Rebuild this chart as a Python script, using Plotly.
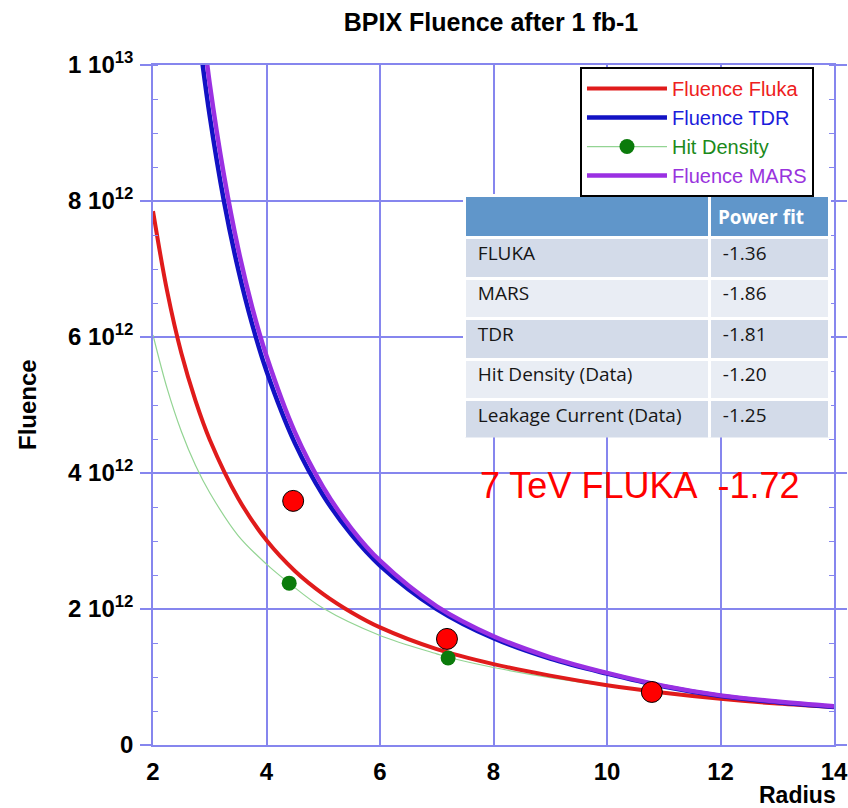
import plotly.graph_objects as go

# ---------------- data (fluence in units of 1e12) ----------------
fluka_r = [2.0, 2.25, 2.5, 2.75, 3.0, 3.5, 4.0, 4.5, 5.0, 5.5, 6.0, 7.0, 8.0, 9.0, 10.0, 11.0, 12.0, 13.0, 14.0]
fluka_f = [7.85, 6.67, 5.76, 5.06, 4.49, 3.63, 3.01, 2.56, 2.22, 1.95, 1.73, 1.41, 1.19, 1.02, 0.88, 0.77, 0.68, 0.61, 0.56]

tdr_r = [2.8, 3.0, 3.25, 3.5, 3.75, 4.0, 4.5, 5.0, 5.5, 6.0, 7.0, 8.0, 9.0, 10.0, 11.0, 12.0, 13.0, 14.0]
tdr_f = [10.49, 9.25, 8.00, 7.00, 6.18, 5.50, 4.44, 3.67, 3.09, 2.64, 2.00, 1.57, 1.27, 1.05, 0.86, 0.72, 0.63, 0.56]

mars_r = [2.9, 3.0, 3.25, 3.5, 3.75, 4.0, 4.5, 5.0, 5.5, 6.0, 7.0, 8.0, 9.0, 10.0, 11.0, 12.0, 13.0, 14.0]
mars_f = [10.40, 9.72, 8.38, 7.30, 6.43, 5.72, 4.60, 3.79, 3.18, 2.71, 2.04, 1.60, 1.29, 1.06, 0.87, 0.73, 0.64, 0.57]

hit_curve_r = [2.0, 2.25, 2.5, 2.75, 3.0, 3.5, 4.0, 4.4, 5.0, 6.0, 7.0, 7.2, 8.0, 9.0, 10.0, 10.8, 12.0, 13.0, 14.0]
hit_curve_f = [6.03, 5.24, 4.61, 4.11, 3.71, 3.08, 2.66, 2.38, 2.01, 1.61, 1.34, 1.29, 1.14, 0.99, 0.87, 0.80, 0.70, 0.64, 0.58]

hit_data_r = [4.4, 7.2, 10.8]
hit_data_f = [2.38, 1.28, 0.79]

leak_data_r = [4.47, 7.18, 10.79]
leak_data_f = [3.59, 1.56, 0.78]

y_tickvals = [0, 2, 4, 6, 8, 10]
y_ticktext = ["0", "2 10<sup>12</sup>", "4 10<sup>12</sup>", "6 10<sup>12</sup>",
              "8 10<sup>12</sup>", "1 10<sup>13</sup>"]
x_tickvals = [2, 4, 6, 8, 10, 12, 14]

table_header = ["", "<b>Power fit</b>"]
table_models = ["FLUKA", "MARS", "TDR", "Hit Density (Data)", "Leakage Current (Data)"]
table_power = ["-1.36", "-1.86", "-1.81", "-1.20", "-1.25"]

# ---------------- styling ----------------
RED = "#e01b1b"
BLUE = "#1212c4"
PURPLE = "#9a30e2"
GREEN_LINE = "#93d493"
GREEN_DOT = "#0b7b0b"
GRID = "#8686ee"
FONT = "Liberation Sans, Arial, sans-serif"

fig = go.Figure()

fig.add_trace(go.Scatter(x=hit_curve_r, y=hit_curve_f, mode="lines",
                         line=dict(color=GREEN_LINE, width=1.2, shape="spline"),
                         showlegend=False, hoverinfo="skip"))
fig.add_trace(go.Scatter(x=fluka_r, y=fluka_f, mode="lines",
                         line=dict(color=RED, width=4, shape="spline"),
                         name='<span style="color:#ee2020">Fluence Fluka</span>', legendrank=1))
fig.add_trace(go.Scatter(x=tdr_r, y=tdr_f, mode="lines",
                         line=dict(color=BLUE, width=4.5, shape="spline"),
                         name='<span style="color:#1c1cdc">Fluence TDR</span>', legendrank=2))
fig.add_trace(go.Scatter(x=[None], y=[None], mode="lines+markers",
                         line=dict(color=GREEN_LINE, width=1.2),
                         marker=dict(color=GREEN_DOT, size=15),
                         name='<span style="color:#1b8a1b">Hit Density</span>', legendrank=3))
fig.add_trace(go.Scatter(x=mars_r, y=mars_f, mode="lines",
                         line=dict(color=PURPLE, width=4.5, shape="spline"),
                         name='<span style="color:#9933dd">Fluence MARS</span>', legendrank=4))
fig.add_trace(go.Scatter(x=hit_data_r, y=hit_data_f, mode="markers",
                         marker=dict(color=GREEN_DOT, size=15),
                         showlegend=False))
fig.add_trace(go.Scatter(x=leak_data_r, y=leak_data_f, mode="markers",
                         marker=dict(color="#ff0000", size=21, line=dict(color="black", width=1)),
                         showlegend=False))

row_colors = ["#d3dbe9", "#e9edf4", "#d3dbe9", "#e9edf4", "#d3dbe9"]
fig.add_trace(go.Table(
    domain=dict(x=[0.458, 0.994], y=[0.451, 0.808]),
    columnwidth=[245, 120],
    header=dict(values=table_header, fill_color="#6096ca", align="left",
                line=dict(color="white", width=3), height=40,
                font=dict(family="Open Sans", size=19, color="white")),
    cells=dict(values=[["\u00a0" + m for m in table_models], ["\u00a0" + p for p in table_power]],
               fill_color=[row_colors, row_colors], align="left",
               line=dict(color="white", width=3), height=40.5,
               font=dict(family="Open Sans", size=19, color="#161616")),
))

fig.add_annotation(x=7.73, y=3.81, xref="x", yref="y", xanchor="left", yanchor="middle",
                   text="7 TeV FLUKA\u00a0 -1.72", showarrow=False,
                   font=dict(family=FONT, size=36, color="#ff0000"))
fig.add_annotation(x=1.006, y=-0.074, xref="paper", yref="paper", xanchor="right", yanchor="middle",
                   text="Radius", showarrow=False,
                   font=dict(family=FONT, size=23, color="black", weight="bold"))
fig.add_annotation(x=-0.185, y=0.5, xref="paper", yref="paper", xanchor="center", yanchor="middle",
                   text="Fluence", textangle=-90, showarrow=False,
                   font=dict(family=FONT, size=24, color="black", weight="bold"))

fig.update_layout(
    width=848, height=808, autosize=False,
    margin=dict(l=153, r=14, t=65, b=63),
    paper_bgcolor="white", plot_bgcolor="white",
    font=dict(family=FONT, color="black"),
    title=dict(text="BPIX Fluence after 1 fb-1", x=0.579, xanchor="center",
               y=0.973, yanchor="middle", xref="container", yref="container",
               font=dict(family=FONT, size=25, color="black", weight="bold")),
    legend=dict(x=0.627, y=0.997, xanchor="left", yanchor="top",
                bgcolor="white", bordercolor="black", borderwidth=2,
                font=dict(family=FONT, size=20), itemwidth=80,
                tracegroupgap=0),
)

fig.update_xaxes(range=[2, 14], tickvals=x_tickvals, ticks="", showgrid=True,
                 gridcolor=GRID, gridwidth=1.5, showline=True, linecolor=GRID,
                 linewidth=1.5, mirror=True, zeroline=False, automargin=False,
                 tickfont=dict(family=FONT, size=24, color="black", weight="bold"),
                 ticklabelstandoff=4)
fig.update_yaxes(range=[0, 10], tickvals=y_tickvals, ticktext=y_ticktext,
                 ticks="outside", ticklen=11, tickcolor=GRID, tickwidth=1.5,
                 minor=dict(dtick=0.5, ticks="inside", ticklen=5, tickcolor=GRID, tickwidth=1.2,
                            showgrid=False),
                 showgrid=True, gridcolor=GRID, gridwidth=1.5, showline=True, linecolor=GRID,
                 linewidth=1.5, mirror="allticks", zeroline=False, automargin=False,
                 tickfont=dict(family=FONT, size=24, color="black", weight="bold"),
                 ticklabelstandoff=2)

fig.write_html("out.html")
